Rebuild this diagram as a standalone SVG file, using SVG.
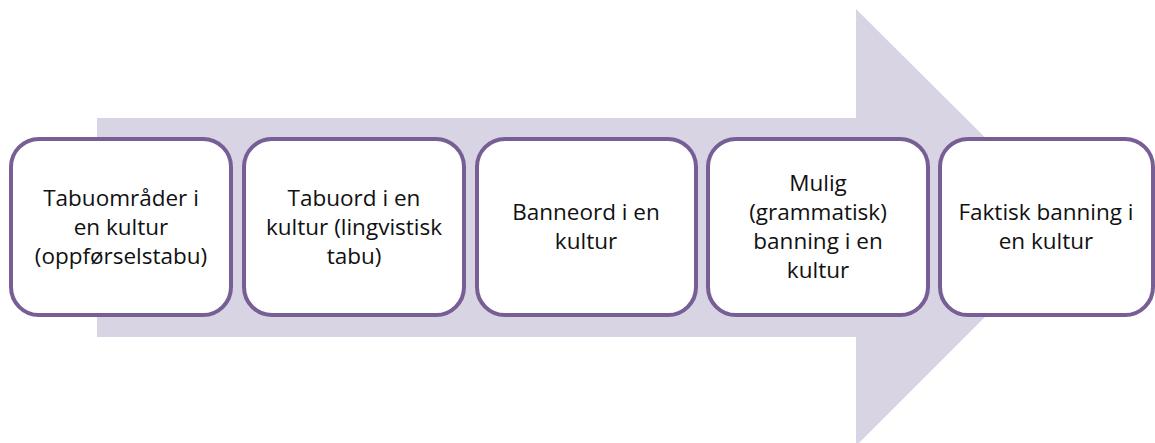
<svg xmlns="http://www.w3.org/2000/svg" width="1155" height="443" viewBox="0 0 1155 443">
<style>
.box{fill:#fff;stroke:#775F96;stroke-width:4}
.t{font-family:"Open Sans","Liberation Sans",Arial,sans-serif;font-size:22.5px;fill:#111;text-anchor:middle}
</style>
<g id="arrow">
<polygon points="97,118 856,118 856,9 1075,227 856,446 856,337 97,337" fill="#D8D4E3"/>
</g>
<g id="node1">
<rect class="box" x="11" y="139" width="220" height="176" rx="28"/>
<text class="t"><tspan x="121" y="206">Tabuområder i</tspan><tspan x="121" y="235">en kultur</tspan><tspan x="121" y="264">(oppførselstabu)</tspan></text>
</g>
<g id="node2">
<rect class="box" x="244" y="139" width="220" height="176" rx="28"/>
<text class="t"><tspan x="354" y="206">Tabuord i en</tspan><tspan x="354" y="235">kultur (lingvistisk</tspan><tspan x="354" y="264">tabu)</tspan></text>
</g>
<g id="node3">
<rect class="box" x="477" y="139" width="219" height="176" rx="28"/>
<text class="t"><tspan x="586" y="220">Banneord i en</tspan><tspan x="586" y="249">kultur</tspan></text>
</g>
<g id="node4">
<rect class="box" x="708" y="139" width="220" height="176" rx="28"/>
<text class="t"><tspan x="818" y="191">Mulig</tspan><tspan x="818" y="220">(grammatisk)</tspan><tspan x="818" y="249">banning i en</tspan><tspan x="818" y="278">kultur</tspan></text>
</g>
<g id="node5">
<rect class="box" x="940" y="139" width="213" height="176" rx="28"/>
<text class="t"><tspan x="1046" y="220">Faktisk banning i</tspan><tspan x="1046" y="249">en kultur</tspan></text>
</g>
<g id="connectors"></g>
</svg>
